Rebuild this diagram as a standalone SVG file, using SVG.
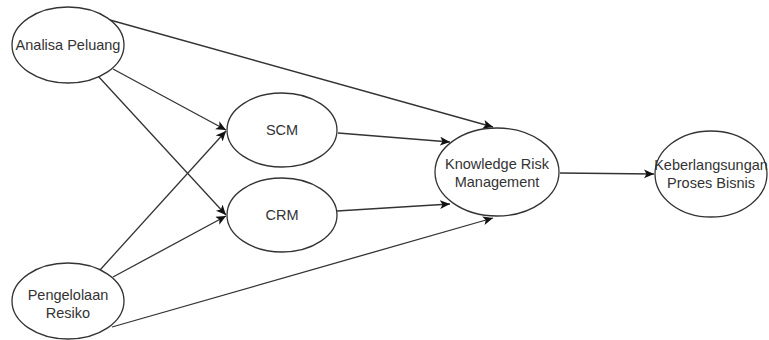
<svg xmlns="http://www.w3.org/2000/svg" width="769" height="340" viewBox="0 0 769 340">
<style>
.n{fill:#fff;stroke:#333;stroke-width:1.3}
.t{font-family:"Liberation Sans",Arial,sans-serif;font-size:14.5px;fill:#333;text-anchor:middle;dominant-baseline:central}
.e{stroke:#333;stroke-width:1.3;fill:none;marker-end:url(#ar)}
</style>
<defs>
<marker id="ar" markerUnits="userSpaceOnUse" markerWidth="12" markerHeight="10" refX="10" refY="4.5" orient="auto">
<path d="M0,0 L10,4.5 L0,9 L2.5,4.5 Z" fill="#111"/>
</marker>
</defs>
<rect width="769" height="340" fill="#fff"/>
<g id="edges">
<line class="e" x1="110" y1="20" x2="493" y2="127"/>
<line class="e" x1="113" y1="69" x2="226" y2="130"/>
<line class="e" x1="98" y1="76" x2="226" y2="215"/>
<line class="e" x1="100" y1="270" x2="226" y2="131"/>
<line class="e" x1="113" y1="277" x2="226" y2="216"/>
<line class="e" x1="112" y1="327" x2="493" y2="218"/>
<line class="e" x1="338" y1="133" x2="450" y2="142"/>
<line class="e" x1="337" y1="211" x2="450" y2="204"/>
<line class="e" x1="560" y1="173" x2="654" y2="174"/>
</g>
<g id="analisa">
<ellipse class="n" cx="68" cy="45" rx="56" ry="38"/>
<text class="t" x="68" y="45">Analisa Peluang</text>
</g>
<g id="pengelolaan">
<ellipse class="n" cx="68" cy="301" rx="56" ry="38"/>
<text class="t" x="68" y="295">Pengelolaan</text>
<text class="t" x="68" y="313">Resiko</text>
</g>
<g id="scm">
<ellipse class="n" cx="282" cy="130" rx="55" ry="37"/>
<text class="t" x="282" y="130">SCM</text>
</g>
<g id="crm">
<ellipse class="n" cx="282" cy="215" rx="55" ry="37"/>
<text class="t" x="282" y="215">CRM</text>
</g>
<g id="krm">
<ellipse class="n" cx="497" cy="172" rx="62" ry="44"/>
<text class="t" x="497" y="164">Knowledge Risk</text>
<text class="t" x="497" y="182">Management</text>
</g>
<g id="keberlangsungan">
<ellipse class="n" cx="711" cy="174" rx="56" ry="43"/>
<text class="t" x="711" y="165">Keberlangsungan</text>
<text class="t" x="711" y="183">Proses Bisnis</text>
</g>
</svg>
